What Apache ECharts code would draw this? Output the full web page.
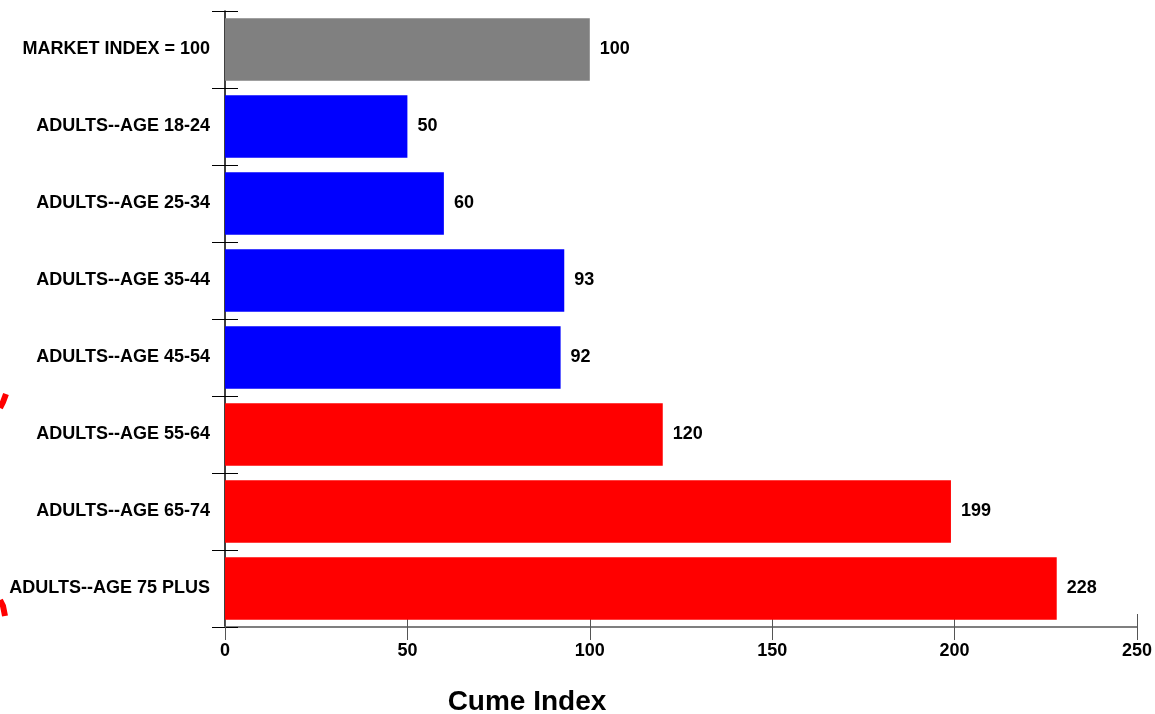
<!DOCTYPE html>
<html>
<head>
<meta charset="utf-8">
<script src="https://cdn.jsdelivr.net/npm/echarts@6/dist/echarts.min.js"></script>
<style>
  html, body { margin: 0; padding: 0; background: #ffffff; }
  #chart { width: 1155px; height: 714px; }
</style>
</head>
<body>
<div id="chart"></div>
<script>
// Cume index by adult age group, market index = 100
const categories = [
  'MARKET INDEX = 100',
  'ADULTS--AGE 18-24',
  'ADULTS--AGE 25-34',
  'ADULTS--AGE 35-44',
  'ADULTS--AGE 45-54',
  'ADULTS--AGE 55-64',
  'ADULTS--AGE 65-74',
  'ADULTS--AGE 75 PLUS'
];
const cumeIndex = [100, 50, 60, 93, 92, 120, 199, 228];
const barColors = ['#808080', '#0000ff', '#0000ff', '#0000ff', '#0000ff', '#ff0000', '#ff0000', '#ff0000'];
const xTicks = [0, 50, 100, 150, 200, 250];

const FONT = '"Liberation Sans", Arial, sans-serif';
const chart = echarts.init(document.getElementById('chart'), null, { renderer: 'canvas' });

const xMin = xTicks[0];
const xMax = xTicks[xTicks.length - 1];
const xStep = xTicks[1] - xTicks[0];

chart.setOption({
  animation: false,
  backgroundColor: '#ffffff',
  title: {
    text: 'Cume Index',
    left: 522,
    top: 683,
    textAlign: 'center',
    textStyle: { fontFamily: FONT, fontSize: 28, fontWeight: 'bold', color: '#000000' }
  },
  grid: { left: 225, right: 18, top: 11, bottom: 87, containLabel: false },
  xAxis: [
    {
      type: 'value', min: xMin, max: xMax, interval: xStep,
      axisLine: { show: true, lineStyle: { color: '#7f7f7f', width: 2 } },
      axisTick: { show: true, length: 13, lineStyle: { color: '#555555', width: 1 } },
      axisLabel: { margin: 15, fontFamily: FONT, fontSize: 18, fontWeight: 'bold', color: '#000000' },
      splitLine: { show: false }
    },
    {
      type: 'value', min: xMin, max: xMax, interval: xStep, position: 'bottom',
      axisLine: { show: false },
      axisTick: { show: true, inside: true, length: 13, lineStyle: { color: '#555555', width: 1 } },
      axisLabel: { show: false },
      splitLine: { show: false }
    }
  ],
  yAxis: [
    {
      type: 'category', data: categories, inverse: true,
      axisLine: { show: true, lineStyle: { color: '#000000', width: 1.5 } },
      axisTick: { show: true, length: 13, lineStyle: { color: '#000000', width: 1 } },
      axisLabel: { margin: 15, fontFamily: FONT, fontSize: 18, fontWeight: 'bold', color: '#000000',
                   padding: [3, 0, 0, 0] }
    },
    {
      type: 'category', data: categories, inverse: true, position: 'left',
      axisLine: { show: false },
      axisTick: { show: true, inside: true, length: 13, lineStyle: { color: '#000000', width: 1 } },
      axisLabel: { show: false }
    }
  ],
  series: [
    {
      type: 'bar',
      xAxisIndex: 0,
      yAxisIndex: 0,
      barCategoryGap: '19%',
      data: cumeIndex.map((v, i) => ({ value: v, itemStyle: { color: barColors[i] } })),
      label: {
        show: true, position: 'right', distance: 10, padding: [3, 0, 0, 0],
        fontFamily: FONT, fontSize: 18, fontWeight: 'bold', color: '#000000'
      }
    }
  ],
  graphic: [
    {
      type: 'polyline', silent: true,
      shape: { points: [[0, 408], [3, 402], [6, 394]] },
      style: { stroke: '#ff0000', lineWidth: 6, fill: null }
    },
    {
      type: 'polyline', silent: true,
      shape: { points: [[0, 600], [3, 606], [5, 616]] },
      style: { stroke: '#ff0000', lineWidth: 6, fill: null }
    }
  ]
});
</script>
</body>
</html>
